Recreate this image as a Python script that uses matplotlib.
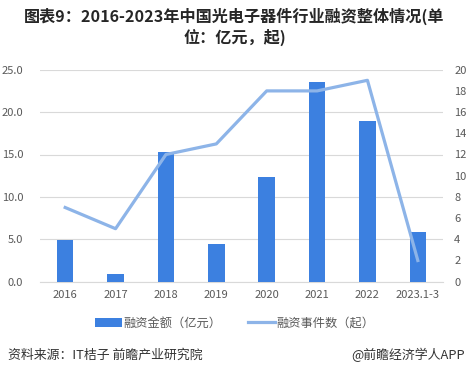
import matplotlib.pyplot as plt
import numpy as np

plt.rcParams['font.family'] = ['Noto Sans CJK SC', 'DejaVu Sans']

years = ['2016', '2017', '2018', '2019', '2020', '2021', '2022', '2023.1-3']
amount = [4.9, 0.9, 15.3, 4.4, 12.4, 23.6, 18.9, 5.9]   # 融资金额（亿元）
events = [7, 5, 12, 13, 18, 18, 19, 2]                  # 融资事件数（起）

bar_color = '#3C80E0'
line_color = '#8DB4E8'
text_color = '#595959'

fig = plt.figure(figsize=(4.69, 3.75), dpi=100)
ax = fig.add_axes([40 / 469, 1 - 281.7 / 375, 403 / 469, 212 / 375])
ax2 = ax.twinx()

x = np.arange(len(years))
ax.bar(x, amount, width=0.33, color=bar_color, zorder=3, label='融资金额（亿元）')
ax2.plot(x, events, color=line_color, linewidth=2.3, zorder=4, label='融资事件数（起）')

ax.set_ylim(0, 25)
ax.set_yticks(np.arange(0, 25.1, 5))
ax.set_yticklabels([f'{v:.1f}' for v in np.arange(0, 25.1, 5)])
ax2.set_ylim(0, 20)
ax2.set_yticks(np.arange(0, 21, 2))
ax.set_xlim(-0.5, len(years) - 0.5)
ax.set_xticks(x)
ax.set_xticklabels(years)

ax.grid(axis='y', color='#d9d9d9', linewidth=0.8, zorder=0)
for a in (ax, ax2):
    for s in a.spines.values():
        s.set_visible(False)
    a.tick_params(length=0, labelsize=8, colors=text_color)
ax.spines['bottom'].set_visible(True)
ax.spines['bottom'].set_color('#d9d9d9')
ax.tick_params(axis='y', pad=12)
ax.tick_params(axis='x', pad=6)
ax2.tick_params(axis='y', pad=8)

# line on top of bars
ax.set_zorder(1)
ax2.set_zorder(2)
ax.patch.set_visible(False)

h1, l1 = ax.get_legend_handles_labels()
h2, l2 = ax2.get_legend_handles_labels()
fig.legend(h1 + h2, l1 + l2, loc='center', bbox_to_anchor=(0.5, 1 - 323 / 375),
           ncol=2, frameon=False, fontsize=8.8, labelcolor=text_color,
           handlelength=2.2, handletextpad=0.1, columnspacing=2.2)

fig.text(0.5, 1 - 16 / 375, '图表9：2016-2023年中国光电子器件行业融资整体情况(单',
         ha='center', va='center', fontsize=11.6, fontweight='bold', color='#262626')
fig.text(0.5, 1 - 37 / 375, '位：亿元，起)',
         ha='center', va='center', fontsize=11.6, fontweight='bold', color='#262626')
fig.text(8 / 469, 1 - 355 / 375, '资料来源：IT桔子 前瞻产业研究院',
         ha='left', va='center', fontsize=9.3, color='#333333')
fig.text(465 / 469, 1 - 355 / 375, '@前瞻经济学人APP',
         ha='right', va='center', fontsize=9.3, color='#333333')

fig.savefig('out.png', dpi=100)
